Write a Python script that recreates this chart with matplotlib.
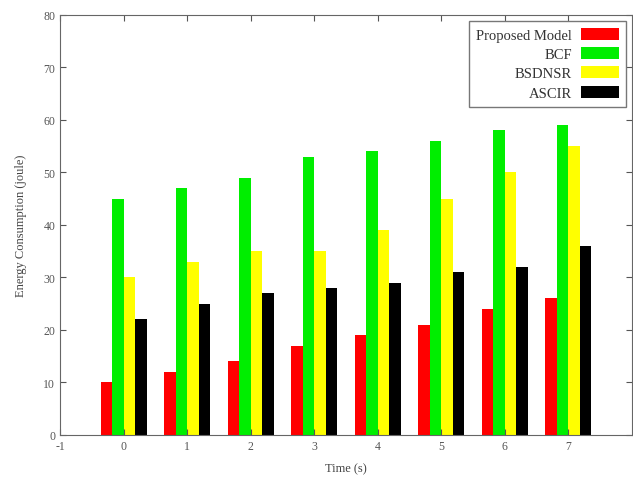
import numpy as np
import matplotlib.pyplot as plt

plt.rcParams['font.family'] = ['Liberation Serif', 'DejaVu Serif']
plt.rcParams['axes.unicode_minus'] = False

times = [0, 1, 2, 3, 4, 5, 6, 7]
series = ['Proposed Model', 'BCF', 'BSDNSR', 'ASCIR']
proposed = [10, 12, 14, 17, 19, 21, 24, 26]
bcf = [45, 47, 49, 53, 54, 56, 58, 59]
bsdnsr = [30, 33, 35, 35, 39, 45, 50, 55]
ascir = [22, 25, 27, 28, 29, 31, 32, 36]
colors = ['#ff0000', '#00ee00', '#ffff00', '#000000']

fig = plt.figure(figsize=(6.33, 4.81), dpi=100)
ax = fig.add_axes([0.095, 0.094, 0.903, 0.873])

x = np.array(times)
w = 0.18
for i, (vals, lab, c) in enumerate(zip([proposed, bcf, bsdnsr, ascir], series, colors)):
    ax.bar(x + (i - 1.5) * w, vals, w, color=c, label=lab, linewidth=0)

ax.set_xlim(-1, 8)
ax.set_ylim(0, 80)
ax.set_xticks(range(-1, 8))
ax.set_yticks(range(0, 81, 10))
ax.tick_params(direction='in', top=True, right=True, labelsize=8.5, colors='#555555', length=4)
for s in ax.spines.values():
    s.set_color('#666666')
ax.set_xlabel('Time (s)', fontsize=9, color='#444444', labelpad=8)
ax.set_ylabel('Energy Consumption (joule)', fontsize=9, color='#444444', labelpad=12)

leg = ax.legend(loc='upper right', markerfirst=False, fontsize=10.5, fancybox=False,
                framealpha=1, edgecolor='#777777', handlelength=2.6, handleheight=0.9,
                labelspacing=0.35, borderaxespad=0.4, handletextpad=0.6, borderpad=0.5)
for t in leg.get_texts():
    t.set_color('#333333')

fig.savefig('out.png', dpi=100)
